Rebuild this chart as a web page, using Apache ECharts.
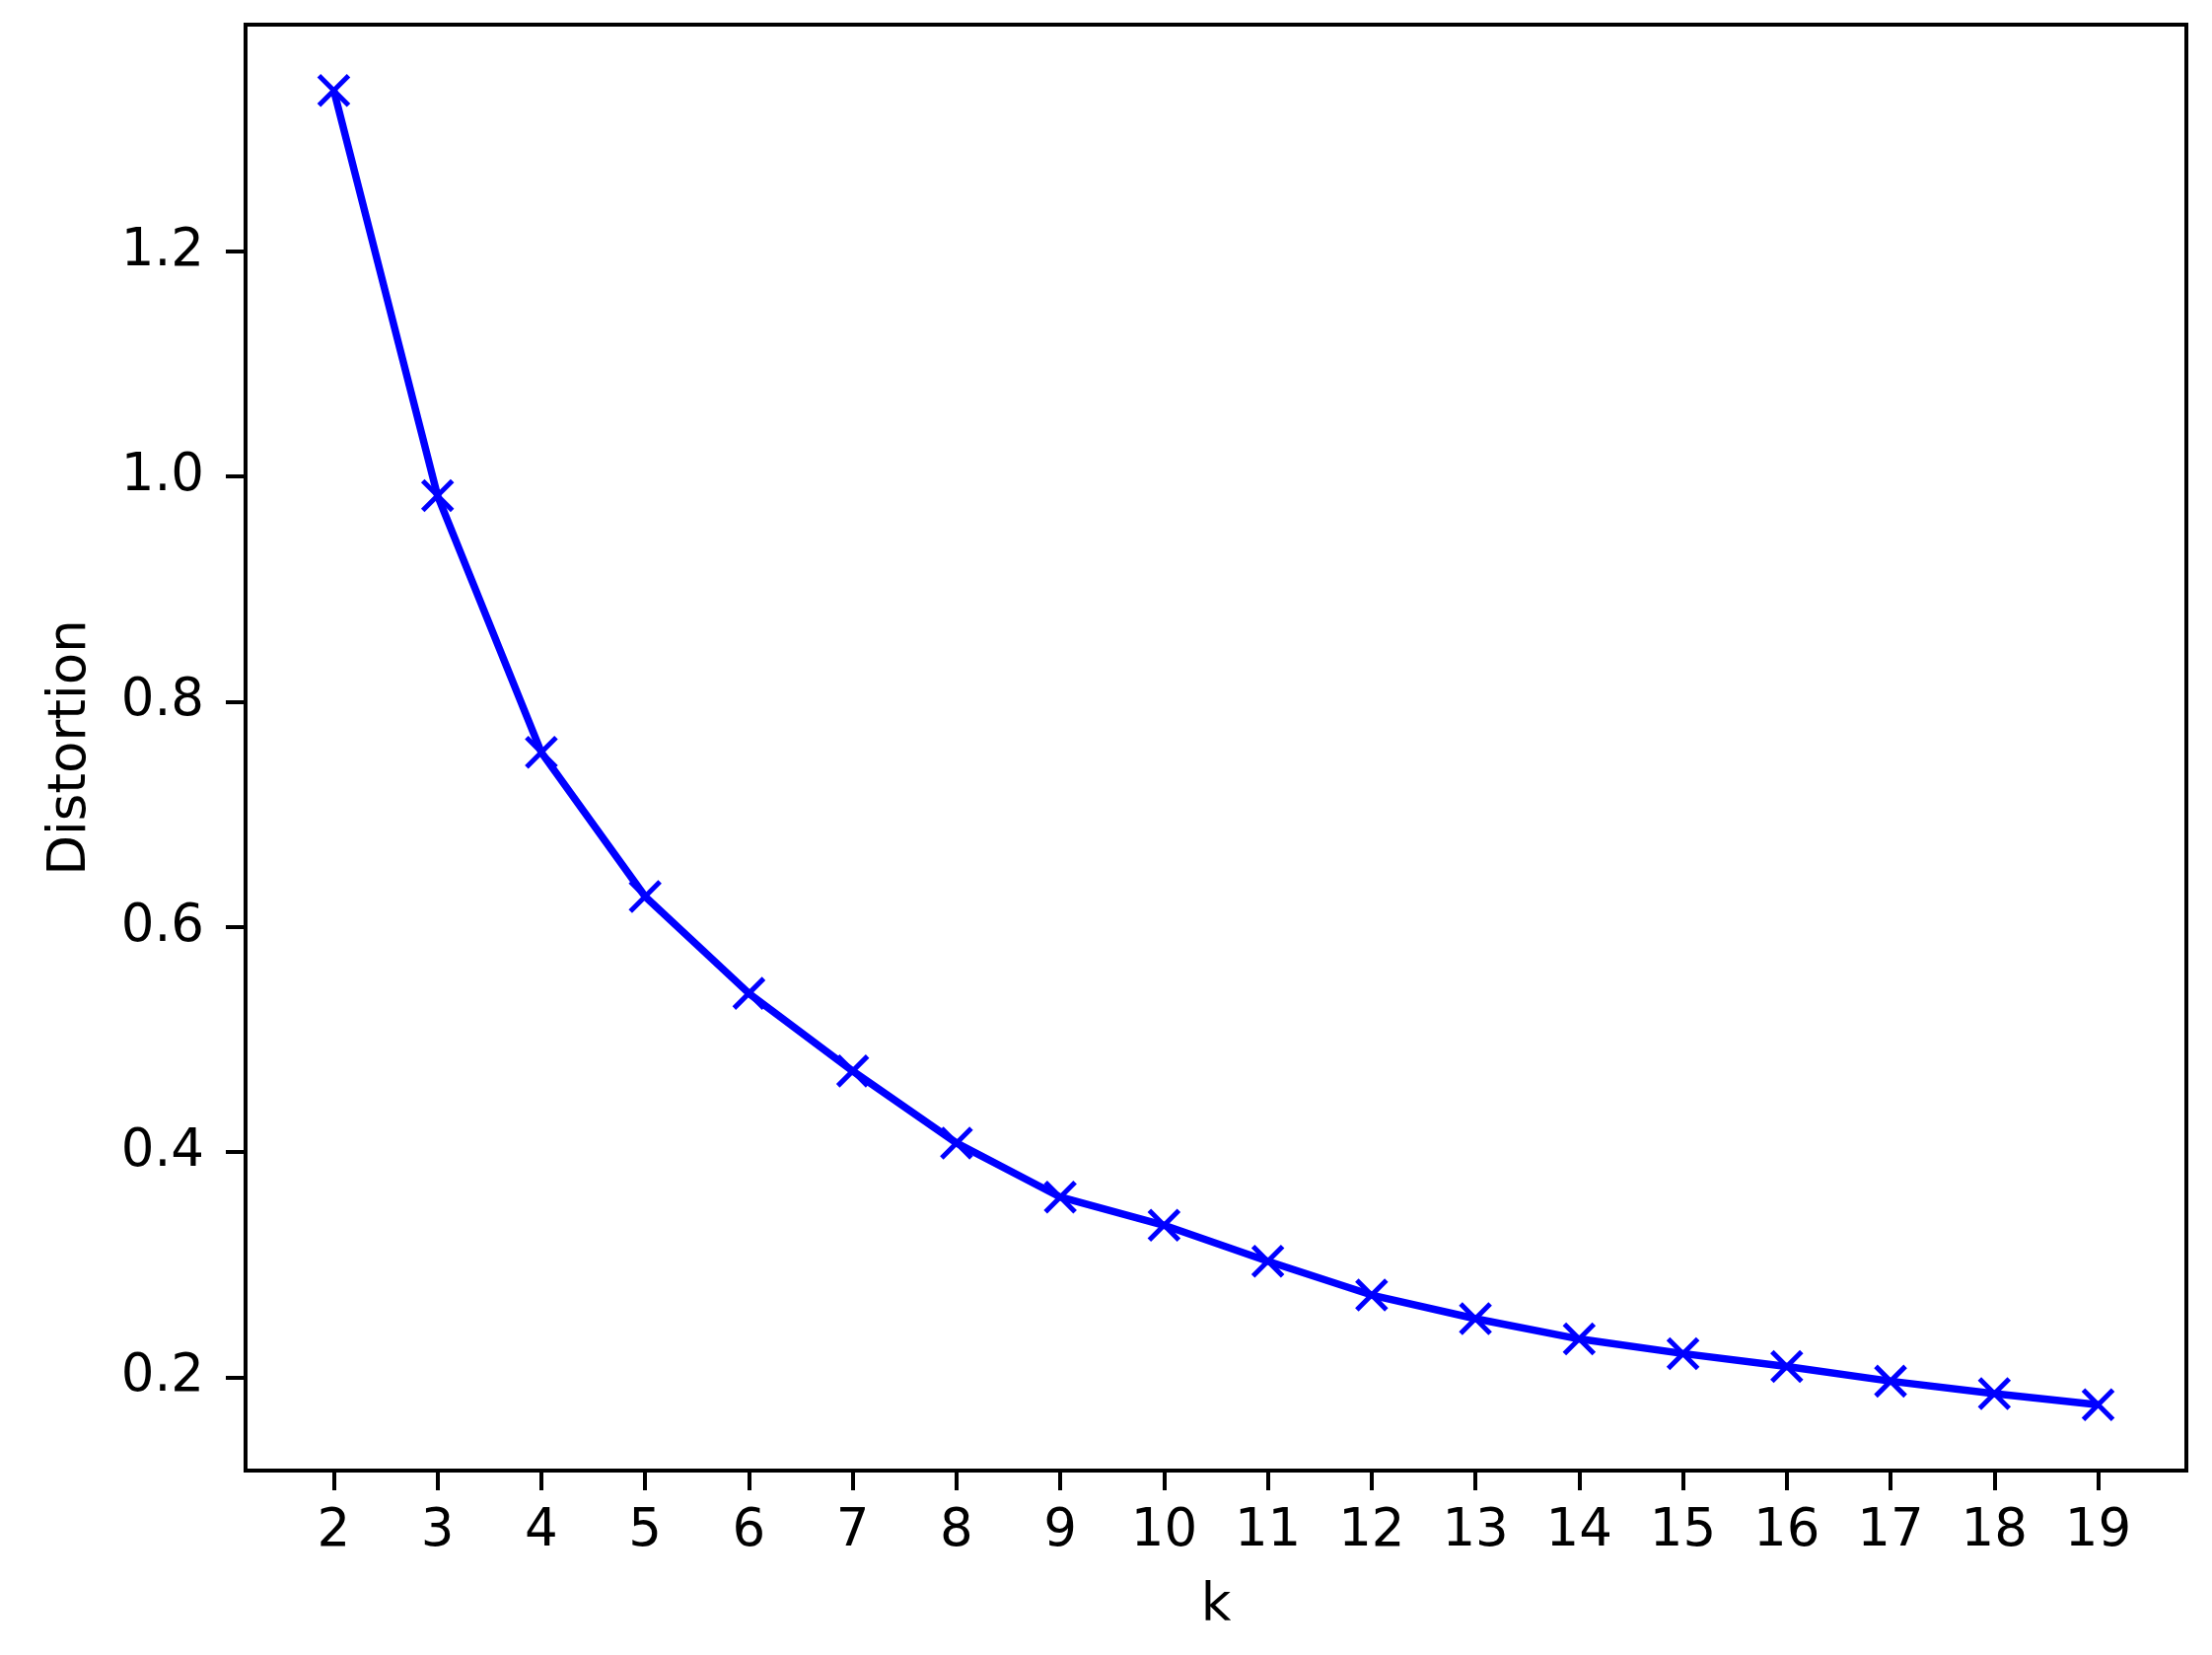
<!DOCTYPE html>
<html>
<head>
<meta charset="utf-8">
<script src="https://cdn.jsdelivr.net/npm/echarts@6/dist/echarts.min.js"></script>
<style>
html, body { margin: 0; padding: 0; background: #fff; }
#chart { width: 2243px; height: 1678px; }
</style>
</head>
<body>
<div id="chart"></div>
<script>
const kValues = [2, 3, 4, 5, 6, 7, 8, 9, 10, 11, 12, 13, 14, 15, 16, 17, 18, 19];
const distortion = [1.343, 0.983, 0.755, 0.627, 0.541, 0.472, 0.408, 0.360, 0.335, 0.303, 0.273, 0.252, 0.234, 0.221, 0.2095, 0.1965, 0.1855, 0.1755];
const xTicks = [2, 3, 4, 5, 6, 7, 8, 9, 10, 11, 12, 13, 14, 15, 16, 17, 18, 19];
const yTicks = [0.2, 0.4, 0.6, 0.8, 1.0, 1.2];
const xTitle = 'k';
const yTitle = 'Distortion';

const FONT = 'DejaVu Sans';
const FS = 53;
const seriesData = kValues.map((k, i) => [k, distortion[i]]);

const chart = echarts.init(document.getElementById('chart'), null, { renderer: 'canvas' });
chart.setOption({
  animation: false,
  backgroundColor: '#ffffff',
  grid: {
    left: 249, right: 26, top: 25, bottom: 187,
    show: true, borderColor: '#000', borderWidth: 4, backgroundColor: 'transparent',
    containLabel: false,
    outerBoundsMode: 'none'
  },
  xAxis: {
    type: 'value',
    min: 1.15, max: 19.85,
    name: xTitle, nameLocation: 'middle', nameGap: 112,
    nameTextStyle: { fontFamily: FONT, fontSize: FS, color: '#000', lineHeight: FS },
    axisLine: { show: true, lineStyle: { color: '#000', width: 4 } },
    axisTick: { show: true, inside: false, length: 20, lineStyle: { color: '#000', width: 4 }, customValues: xTicks },
    axisLabel: { show: true, margin: 36, fontFamily: FONT, fontSize: FS, color: '#000', lineHeight: FS,
      customValues: xTicks, formatter: v => String(v) },
    splitLine: { show: false }
  },
  yAxis: {
    type: 'value',
    min: 0.1171, max: 1.4014,
    name: yTitle, nameLocation: 'middle', nameGap: 150, nameRotate: 90,
    nameTextStyle: { fontFamily: FONT, fontSize: FS, color: '#000', lineHeight: FS },
    axisLine: { show: true, lineStyle: { color: '#000', width: 4 } },
    axisTick: { show: true, inside: false, length: 20, lineStyle: { color: '#000', width: 4 }, customValues: yTicks },
    axisLabel: { show: true, margin: 42, fontFamily: FONT, fontSize: FS, color: '#000',
      customValues: yTicks, formatter: v => Number(v).toFixed(1) },
    splitLine: { show: false }
  },
  series: [{
    type: 'line',
    data: seriesData,
    lineStyle: { color: '#0000ff', width: 7.5 },
    symbol: 'path://M0,0L10,10M10,0L0,10',
    symbolSize: 30,
    showAllSymbol: true,
    itemStyle: { color: '#0000ff', borderColor: '#0000ff', borderWidth: 5 },
    z: 3
  }]
});
</script>
</body>
</html>
